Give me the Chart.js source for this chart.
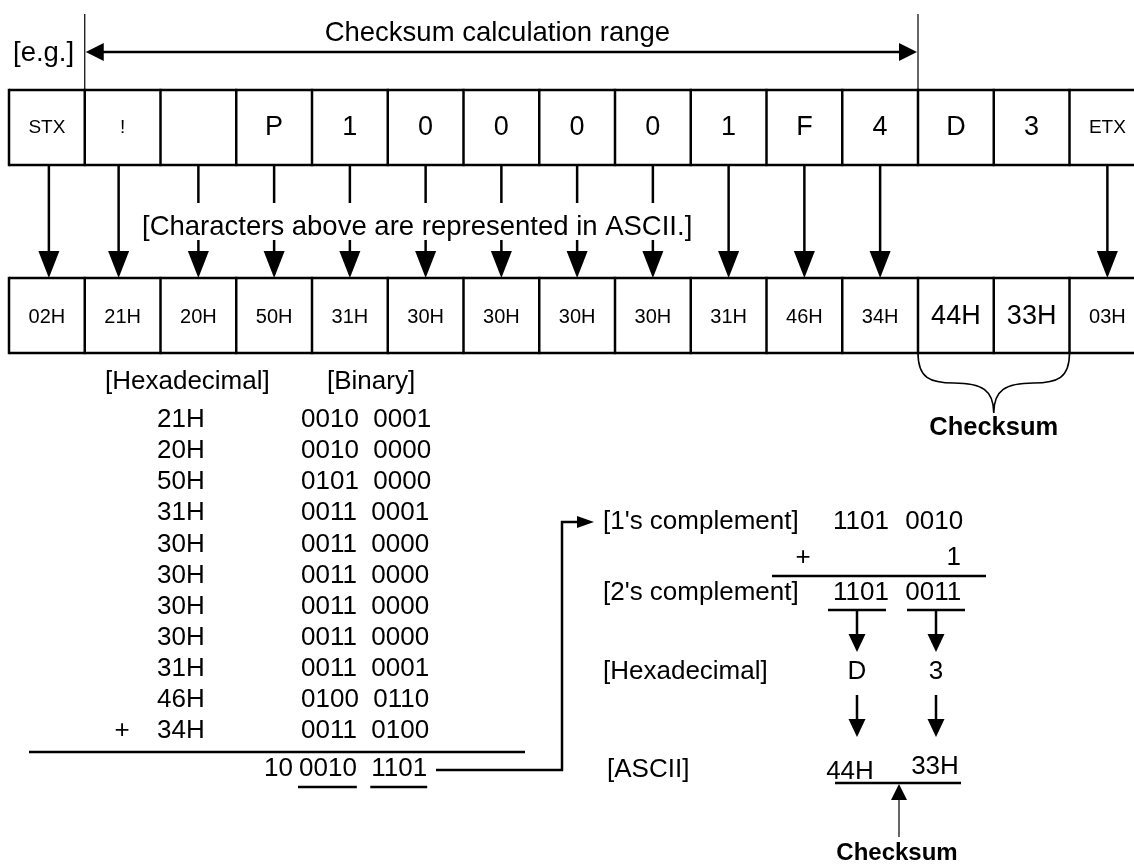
<!DOCTYPE html>
<html>
<head>
<meta charset="utf-8">
<script src="https://cdn.jsdelivr.net/npm/chart.js@4.4.1/dist/chart.umd.min.js"></script>
<style>
  html, body { margin: 0; padding: 0; background: #fff; }
  #wrap { width: 1134px; height: 866px; }
</style>
</head>
<body>
<div id="wrap"><canvas id="checksumChart" width="1134" height="866"></canvas></div>
<script>
// Frame characters and their ASCII codes
const frameChars = ["STX", "!", " ", "P", "1", "0", "0", "0", "0", "1", "F", "4", "D", "3", "ETX"];
const asciiCodes = ["02H", "21H", "20H", "50H", "31H", "30H", "30H", "30H", "30H", "31H", "46H", "34H", "44H", "33H", "03H"];

// Addition table (chars "!" .. "4")
const sumHex = ["21H", "20H", "50H", "31H", "30H", "30H", "30H", "30H", "31H", "46H", "34H"];
const sumBin = ["0010  0001", "0010  0000", "0101  0000", "0011  0001", "0011  0000", "0011  0000",
                "0011  0000", "0011  0000", "0011  0001", "0100  0110", "0011  0100"];
const sumCarry = "10";
const sumLow = ["0010", "1101"];

// Complement steps
const onesComp = ["1101", "0010"];
const twosComp = ["1101", "0011"];
const addOne = "1";
const nibbleHex = ["D", "3"];
const checksumAscii = ["44H", "33H"];

const rangeLabel = "Checksum calculation range";
const asciiNote = "[Characters above are represented in ASCII.]";

// layout (pixels of the 1134x866 picture)
const W = 1134, H = 866;
const cellX0 = 9, cellW = 75.75;
const topRow = { y0: 90, y1: 165 };
const lowRow = { y0: 278, y1: 353 };
const checksumCells = [12, 13];
const arrowShift = { 0: 2, 1: -4 }; // first two arrows sit a bit off centre
const FONT = "'Liberation Sans', Arial, sans-serif";

const diagramPlugin = {
    id: "diagram",
    afterDraw(chart) {
        const ctx = chart.ctx;
        const xs = chart.scales.x, ys = chart.scales.y;
        const px = v => xs.getPixelForValue(v);
        const py = v => ys.getPixelForValue(v);

        ctx.save();
        ctx.fillStyle = "#000";
        ctx.strokeStyle = "#000";
        ctx.lineCap = "butt";

        function line(x1, y1, x2, y2, lw) {
            ctx.lineWidth = lw || 2.5;
            ctx.beginPath();
            ctx.moveTo(px(x1), py(y1));
            ctx.lineTo(px(x2), py(y2));
            ctx.stroke();
        }
        function tri(a, b, c) {
            ctx.beginPath();
            ctx.moveTo(px(a[0]), py(a[1]));
            ctx.lineTo(px(b[0]), py(b[1]));
            ctx.lineTo(px(c[0]), py(c[1]));
            ctx.closePath();
            ctx.fill();
        }
        function text(s, x, y, size, align, bold) {
            ctx.font = (bold ? "bold " : "") + size + "px " + FONT;
            ctx.textAlign = align || "center";
            ctx.textBaseline = "middle";
            ctx.fillText(s, px(x), py(y));
        }
        function width(s, size, bold) {
            ctx.font = (bold ? "bold " : "") + size + "px " + FONT;
            return ctx.measureText(s).width;
        }
        function downArrow(x, yTop, yTip, hw, hl, lw) {
            line(x, yTop, x, yTip - hl + 1, lw);
            tri([x - hw, yTip - hl], [x + hw, yTip - hl], [x, yTip]);
        }
        const cellLeft = i => cellX0 + cellW * i;
        const cellMid = i => cellX0 + cellW * (i + 0.5);

        // range marker
        const xa = cellLeft(1), xb = cellLeft(12);
        line(xa, 14, xa, topRow.y0, 1.2);
        line(xb, 14, xb, topRow.y0, 1.2);
        line(xa + 10, 52, xb - 10, 52, 2.5);
        tri([xa + 1, 52], [xa + 19, 43], [xa + 19, 61]);
        tri([xb - 1, 52], [xb - 19, 43], [xb - 19, 61]);
        text(rangeLabel, (xa + xb) / 2 - 4, 33, 27.5);
        text("[e.g.]", 13, 53, 27.5, "left");

        // two rows of cells
        [topRow, lowRow].forEach(r => {
            line(cellLeft(0), r.y0, W + 5, r.y0, 2.5);
            line(cellLeft(0), r.y1, W + 5, r.y1, 2.5);
            for (let i = 0; i <= frameChars.length; i++) {
                line(cellLeft(i), r.y0 - 1.2, cellLeft(i), r.y1 + 1.2, 2.5);
            }
        });
        frameChars.forEach((c, i) => {
            const small = c.length > 1 || c === "!";
            text(c, cellMid(i), 128, small ? 19 : 27);
        });
        asciiCodes.forEach((c, i) => {
            const big = checksumCells.includes(i);
            text(c, cellMid(i), 317, big ? 27 : 20);
        });

        // arrows from chars to codes, broken around the note
        const noteLeft = 142;
        const noteRight = noteLeft + width(asciiNote, 27.5);
        text(asciiNote, noteLeft, 227, 27.5, "left");
        frameChars.forEach((c, i) => {
            if (checksumCells.includes(i)) return;
            const x = cellMid(i) + (arrowShift[i] || 0);
            if (x > noteLeft && x < noteRight) {
                line(x, topRow.y1, x, 203, 2.5);
                downArrow(x, 240, lowRow.y0, 10.5, 27, 2.5);
            } else {
                downArrow(x, topRow.y1, lowRow.y0, 10.5, 27, 2.5);
            }
        });

        // checksum brace
        const bl = cellLeft(12), br = cellLeft(14), bm = (bl + br) / 2;
        ctx.lineWidth = 1.6;
        ctx.beginPath();
        ctx.moveTo(px(bl), py(lowRow.y1));
        ctx.bezierCurveTo(px(bl), py(378), px(bl + 12), py(383), px(bl + 36), py(383));
        ctx.bezierCurveTo(px(bm - 12), py(383), px(bm), py(390), px(bm), py(413));
        ctx.bezierCurveTo(px(bm), py(390), px(bm + 12), py(383), px(br - 36), py(383));
        ctx.bezierCurveTo(px(br - 12), py(383), px(br), py(378), px(br), py(lowRow.y1));
        ctx.stroke();
        text("Checksum", bm, 428, 25.5, "center", true);

        // addition table
        text("[Hexadecimal]", 105, 382, 26, "left");
        text("[Binary]", 327, 382, 26, "left");
        const rowY = i => 420 + i * 31.1;
        sumHex.forEach((h, i) => text(h, 157, rowY(i), 26, "left"));
        sumBin.forEach((b, i) => text(b, 301, rowY(i), 26, "left"));
        text("+", 122, rowY(sumHex.length - 1), 26);
        line(29, 752, 525, 752, 2.5);
        text(sumCarry, 264, 769, 26, "left");
        const nib = width("0010  ", 26);
        sumLow.forEach((s, i) => {
            const x = 299 + i * nib;
            text(s, x, 769, 26, "left");
            line(x - 1, 787, x + width(s, 26), 787, 2.5);
        });

        // connector to the complement block
        line(436, 770, 563, 770, 2.5);
        line(562, 771, 562, 521, 2.5);
        line(561, 522, 582, 522, 2.5);
        tri([594, 522], [577, 516], [577, 528]);

        // complement block
        text("[1's complement]", 603, 522, 26, "left");
        text("[2's complement]", 603, 593, 26, "left");
        text("[Hexadecimal]", 603, 672, 26, "left");
        text("[ASCII]", 607, 770, 26, "left");
        onesComp.forEach((s, i) => text(s, 833 + i * nib, 522, 26, "left"));
        text("+", 803, 558, 26);
        text(addOne, 961, 558, 26, "right");
        line(772, 576, 986, 576, 2.5);
        twosComp.forEach((s, i) => text(s, 833 + i * nib, 593, 26, "left"));
        const nibX = [857, 936];
        nibX.forEach((x, i) => {
            line(x - 29, 610, x + 29, 610, 2.5);
            downArrow(x, 610, 652, 8.5, 18, 2.5);
            text(nibbleHex[i], x, 672, 26);
            downArrow(x, 695, 737, 8.5, 18, 2.5);
        });
        text(checksumAscii[0], 850, 772, 26);
        text(checksumAscii[1], 935, 767, 26);
        line(835, 783, 961, 783, 2.5);
        tri([899, 784], [891, 800], [907, 800]);
        line(899, 799, 899, 837, 1.2);
        text("Checksum", 897, 853, 24, "center", true);

        ctx.restore();
    }
};

const chart = new Chart(document.getElementById("checksumChart").getContext("2d"), {
    type: "scatter",
    data: {
        datasets: [{
            data: frameChars.map((c, i) => ({ x: cellX0 + cellW * (i + 0.5), y: (topRow.y0 + topRow.y1) / 2 })),
            pointRadius: 0
        }]
    },
    options: {
        responsive: false,
        animation: false,
        devicePixelRatio: 1,
        events: [],
        layout: { padding: 0 },
        plugins: { legend: { display: false }, tooltip: { enabled: false } },
        scales: {
            x: { type: "linear", min: 0, max: W, display: false },
            y: { type: "linear", min: 0, max: H, reverse: true, display: false }
        }
    },
    plugins: [diagramPlugin]
});
</script>
</body>
</html>
